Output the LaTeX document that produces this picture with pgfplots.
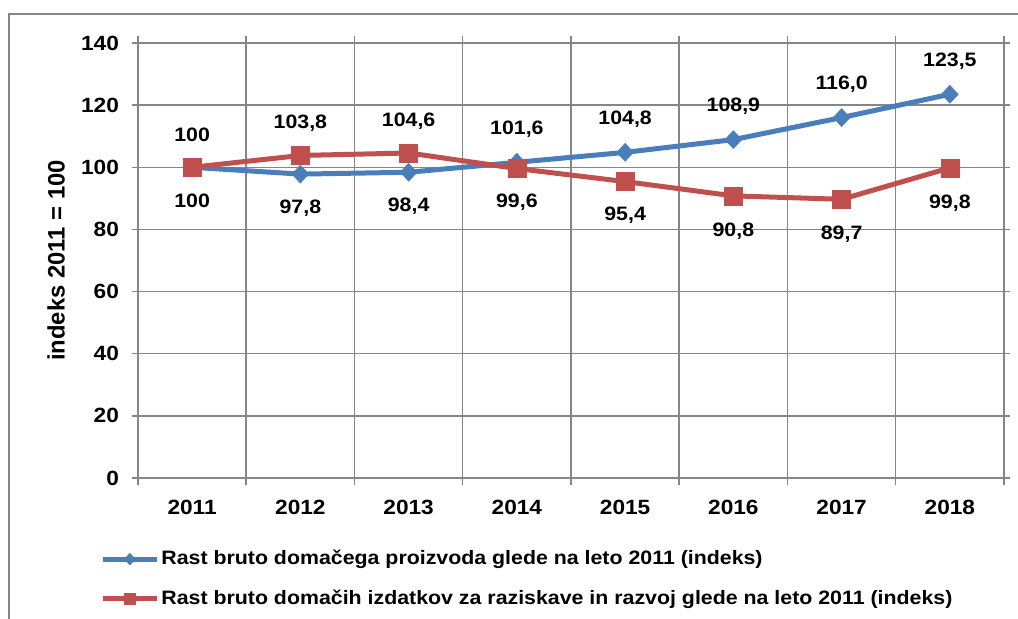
\documentclass[border=0pt]{standalone}
\usepackage{pgfplots}
\pgfplotsset{compat=1.18}
\usepackage{pgfplotstable}
\usepackage{fontspec}
\setmainfont{Liberation Sans}[FakeStretch=1.1]
\newfontfamily\plainfont{Liberation Sans}
\definecolor{gridc}{RGB}{134,134,134}
\definecolor{blueline}{RGB}{74,126,187}
\definecolor{redline}{RGB}{192,80,77}
\pgfplotstableread{
x y lab off
0 100 100 -17
1 97.8 97,8 -17
2 98.4 98,4 -17
3 101.6 101,6 16.5
4 104.8 104,8 16.5
5 108.9 108,9 16.5
6 116.0 116,0 16.5
7 123.5 123,5 16.5
}\gdp
\pgfplotstableread{
x y lab off
0 100 100 16
1 103.8 103,8 16
2 104.6 104,6 16
3 99.6 99,6 -17
4 95.4 95,4 -17
5 90.8 90,8 -17.5
6 89.7 89,7 -17.5
7 99.8 99,8 -17.5
}\rd
\begin{document}
\begin{tikzpicture}[font=\fontsize{10}{12}\selectfont\bfseries]
\useasboundingbox (0pt,0pt) rectangle (509pt,-309.5pt);
\draw[gridc, line width=0.8pt] (4.5pt,-309.5pt) -- (4.5pt,-7pt) -- (509pt,-7pt);
\begin{axis}[
  at={(69pt,-239pt)}, anchor=south west,
  width=433pt, height=217.5pt, scale only axis,
  xmin=-0.5, xmax=7.5, ymin=0, ymax=140,
  xtick={0,...,7},
  xticklabels={2011,2012,2013,2014,2015,2016,2017,2018},
  minor xtick={-0.5,0.5,...,7.5},
  ytick={0,20,...,140},
  ymajorgrids, xminorgrids,
  grid style={gridc, line width=0.75pt},
  minor grid style={gridc, line width=0.75pt},
  axis line style={gridc, line width=0.75pt},
  tick style={gridc, line width=0.75pt},
  tick align=outside,
  x tick style={draw=none},
  minor x tick style={draw=gridc, line width=0.75pt},
  minor tick length=3.5pt,
  major tick length=3pt,
  /pgf/number format/assume math mode=true,
  tick label style={font=\fontsize{10.3}{12}\selectfont\bfseries},
  yticklabel style={xshift=-3pt},
  xticklabel style={yshift=-4.5pt},
  ylabel={indeks 2011 = 100},
  ylabel style={at={(axis description cs:-0.0947,0.50)}, anchor=center, font=\plainfont\fontsize{11.9}{13}\selectfont\bfseries},
  legend style={draw=none, fill=none, inner sep=0pt, at={(axis description cs:-0.0439,-0.161)}, anchor=north west, font=\fontsize{9.7}{11.5}\selectfont\bfseries, row sep=9pt, nodes={inner sep=1pt}},
  legend cell align=left,
  legend image code/.code={%
    \begin{scope}[#1, every mark/.append style={scale=0.65}]
    \draw[mark repeat=2,mark phase=2] plot coordinates {(0pt,0pt) (13.5pt,0pt) (27pt,0pt)};
    \end{scope}},
  nodes near coords={\pgfplotspointmeta},
  every node near coord/.append style={font=\fontsize{9.7}{12}\selectfont\bfseries, text=black, anchor=center},
]
\addplot[blueline, line width=2.5pt, mark=diamond*, mark size=4.5pt, mark options={xscale=1.25, line width=0.25pt},
  point meta=explicit symbolic,
  visualization depends on={\thisrow{off}\as\myoff},
  every node near coord/.append style={yshift=\myoff}]
  table[x=x, y=y, meta=lab]{\gdp};
\addlegendentry{Rast bruto domačega proizvoda glede na leto 2011 (indeks)}
\addplot[redline, line width=2.5pt, mark=square*, mark size=4.5pt, mark options={line width=0.25pt},
  point meta=explicit symbolic,
  visualization depends on={\thisrow{off}\as\myoff},
  every node near coord/.append style={yshift=\myoff}]
  table[x=x, y=y, meta=lab]{\rd};
\addlegendentry{Rast bruto domačih izdatkov za raziskave in razvoj glede na leto 2011 (indeks)}
\end{axis}
\end{tikzpicture}
\end{document}
